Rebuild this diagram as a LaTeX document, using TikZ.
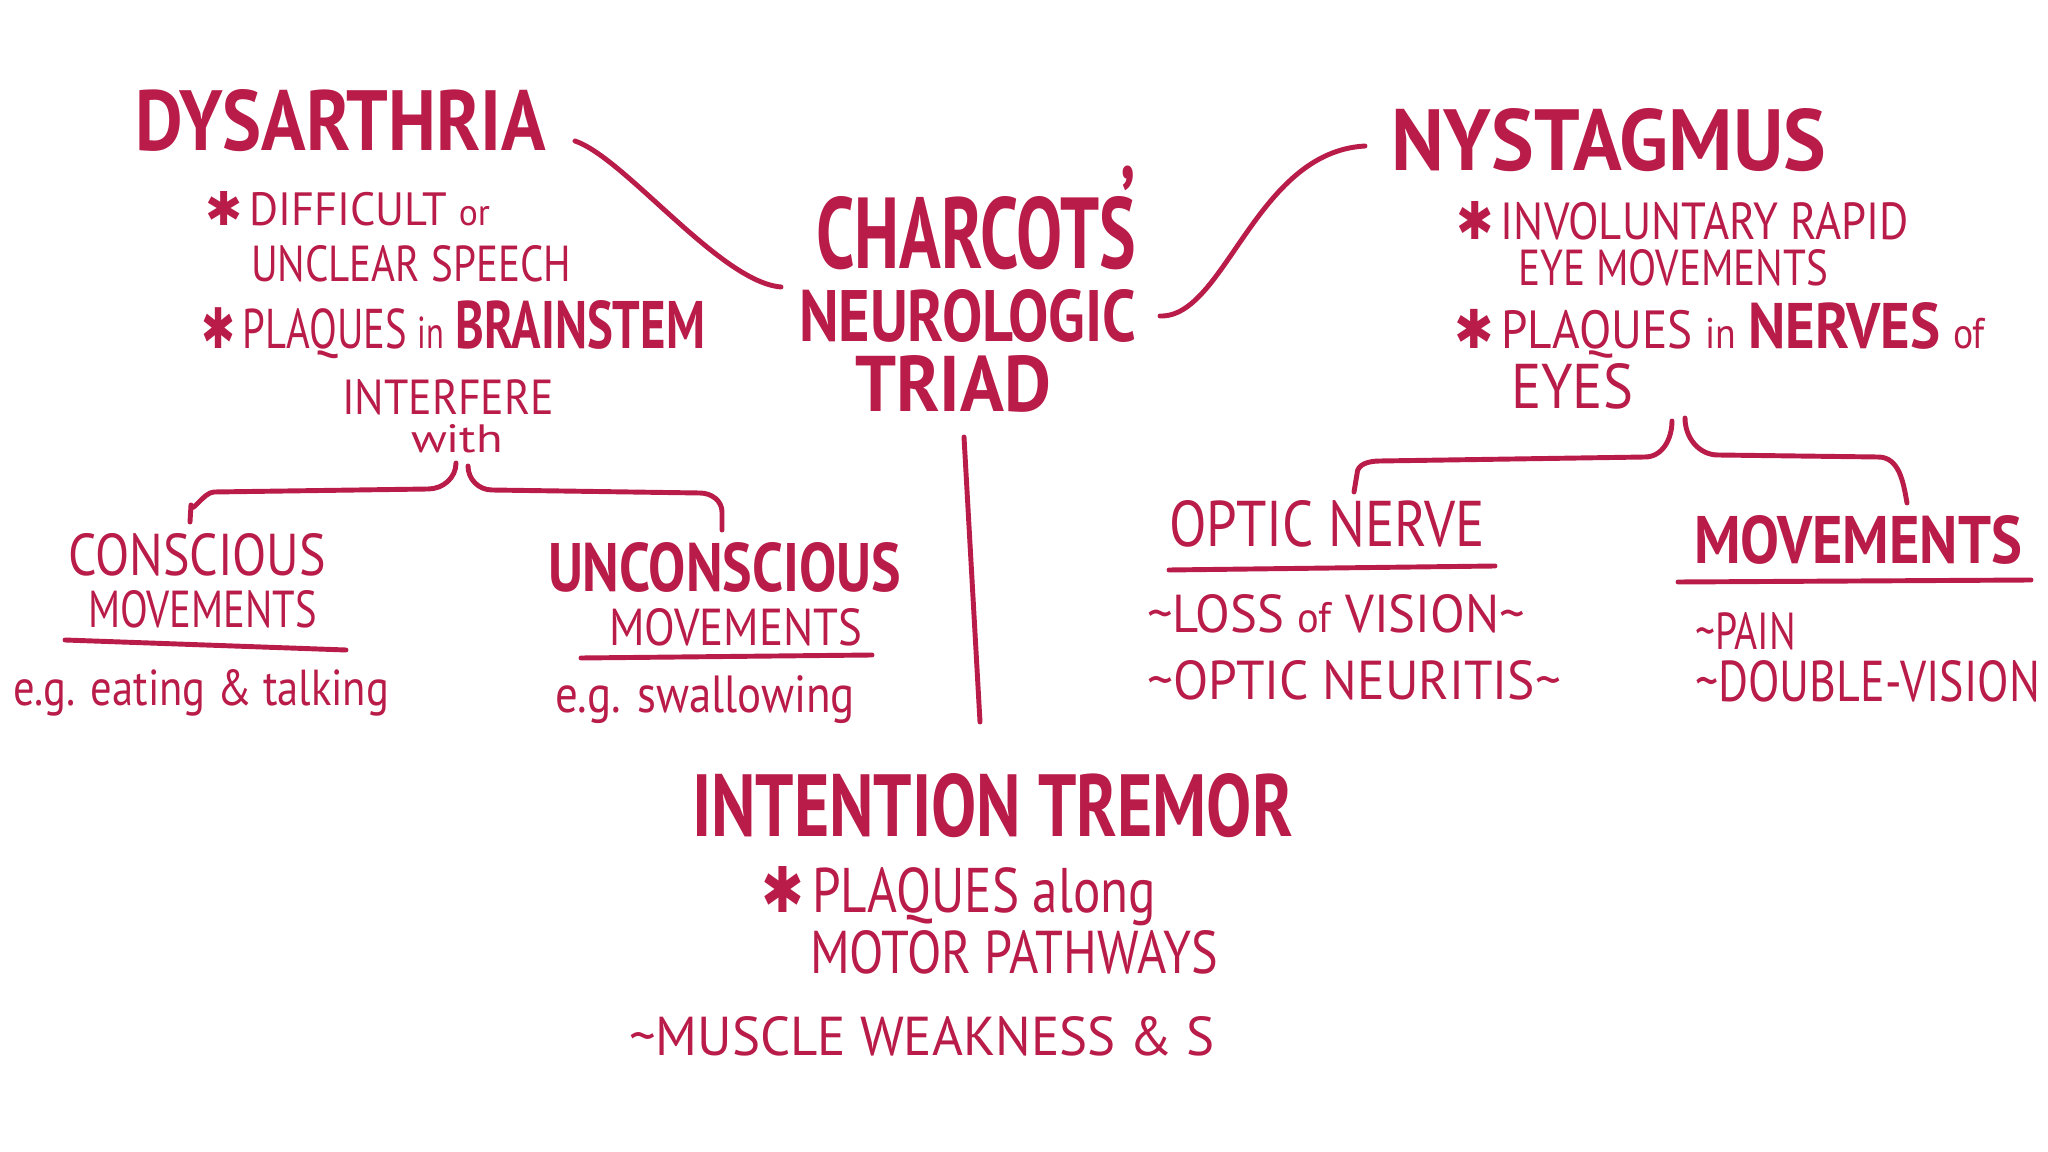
\documentclass[tikz,border=0pt]{standalone}
\usepackage{fontspec}
\setmainfont{PT Sans}
\newfontfamily\symf{DejaVu Sans}
\usepackage{graphicx}
\definecolor{ink}{RGB}{185,28,72}
\newlength\pxu
\setlength\pxu{0.01cm}
\newcommand{\hw}[3]{\resizebox{#1\pxu}{#2\pxu}{#3}}
\newcommand{\starmark}{{\symf ✱}\,}
\newcommand{\tl}{\textasciitilde}
\tikzset{
  txt/.style={anchor=north west, inner sep=0pt, outer sep=0pt, text=ink},
  inkline/.style={draw=ink, line width=1.4pt, line cap=round, line join=round}
}
\begin{document}
\begin{tikzpicture}[x=0.01cm,y=-0.01cm]
\useasboundingbox[fill=white] (0,0) rectangle (2048,1152);

% ---------- centre ----------
\node[txt] (charcot) at (816,196) {\hw{320}{72}{\bfseries CHARCOT\rlap{\smash{\raisebox{0.3em}{\kern0.3em’}}}S}};
\node[txt] (neuro) at (799,290) {\hw{337}{52}{\bfseries NEUROLOGIC}};
\node[txt] (triad) at (855,355) {\hw{196}{56}{\bfseries TRIAD}};

% ---------- dysarthria ----------
\node[txt] (dys) at (135,89) {\hw{411}{61}{\bfseries DYSARTHRIA}};
\node[txt] (dys1) at (205,192) {\hw{285}{34}{\starmark DIFFICULT {\footnotesize or}}};
\node[txt] (dys2) at (251,245) {\hw{320}{36}{UNCLEAR SPEECH}};
\node[txt] (dys3) at (202,300) {\hw{503}{48}{\starmark PLAQUES {\footnotesize in} {\bfseries\large BRAINSTEM}}};
\node[txt] (interf) at (342,379) {\hw{212}{35}{INTERFERE}};
\node[txt] (with) at (411,424) {\hw{92}{28}{with}};

\node[txt] (cons) at (68,533) {\hw{258}{42}{CONSCIOUS}};
\node[txt] (consmv) at (88,590) {\hw{229}{37}{MOVEMENTS}};
\node[txt] (consex) at (13,669) {\hw{376}{36}{e.g. eating \& talking}};
\node[txt] (uncons) at (548,542) {\hw{353}{49}{\bfseries UNCONSCIOUS}};
\node[txt] (unconsmv) at (609,608) {\hw{253}{37}{MOVEMENTS}};
\node[txt] (unconsex) at (555,675) {\hw{300}{37}{e.g. swallowing}};

% ---------- nystagmus ----------
\node[txt] (nys) at (1391,108) {\hw{435}{62}{\bfseries NYSTAGMUS}};
\node[txt] (nys1) at (1456,202) {\hw{453}{38}{\starmark INVOLUNTARY RAPID}};
\node[txt] (nys2) at (1518,250) {\hw{310}{36}{EYE MOVEMENTS}};
\node[txt] (nys3) at (1454,302) {\hw{531}{46}{\starmark PLAQUES {\footnotesize in} {\bfseries\large NERVES} {\footnotesize of}}};
\node[txt] (eyes) at (1511,363) {\hw{122}{45}{EYES}};

\node[txt] (optic) at (1169,500) {\hw{316}{46}{OPTIC NERVE}};
\node[txt] (loss) at (1147,594) {\hw{378}{38}{\tl LOSS {\footnotesize of} VISION\tl}};
\node[txt] (neuritis) at (1147,660) {\hw{414}{39}{\tl OPTIC NEURITIS\tl}};
\node[txt] (mov) at (1694,516) {\hw{328}{48}{\bfseries MOVEMENTS}};
\node[txt] (pain) at (1695,612) {\hw{101}{37}{\tl PAIN}};
\node[txt] (double) at (1695,660) {\hw{345}{41}{\tl DOUBLE-VISION}};

% ---------- intention tremor ----------
\node[txt] (tremor) at (692,773) {\hw{601}{63}{\bfseries INTENTION TREMOR}};
\node[txt] (trem1) at (761,866) {\hw{395}{46}{\starmark PLAQUES along}};
\node[txt] (trem2) at (810,930) {\hw{408}{43}{MOTOR PATHWAYS}};
\node[txt] (trem3) at (629,1016) {\hw{586}{39}{\tl MUSCLE WEAKNESS \& S}};

% ---------- connector end points ----------
\coordinate (dysA) at (575,141);
\coordinate (chA) at (781,287);
\coordinate (chB) at (1160,316);
\coordinate (nysA) at (1365,146);
\coordinate (triadA) at (964,437);
\coordinate (tremA) at (980,722);

% main connectors
\draw[inkline] (dysA) .. controls (625,158) and (720,282) .. (chA);
\draw[inkline] (chB) .. controls (1225,318) and (1255,152) .. (nysA);
\draw[inkline] (triadA) -- (tremA);

% left brace
\draw[inkline] (190,522) -- (191,505) to[out=-90,in=180] (214,492) -- (428,489) to[out=0,in=-90] (456,463);
\draw[inkline] (468,466) to[out=-90,in=180] (492,490) -- (700,493) to[out=0,in=90] (722,512) -- (722,530);

% right brace
\draw[inkline] (1354,492) -- (1357,474) to[out=90,in=180] (1380,461) -- (1645,457) to[out=0,in=-90] (1672,421);
\draw[inkline] (1685,418) to[out=-90,in=180] (1718,455) -- (1878,457) to[out=0,in=100] (1907,503);

% underlines
\draw[inkline] (65,640) -- (346,650);
\draw[inkline] (581,658) -- (872,655);
\draw[inkline] (1169,570) -- (1495,566);
\draw[inkline] (1678,582) -- (2031,580);
\end{tikzpicture}
\end{document}
